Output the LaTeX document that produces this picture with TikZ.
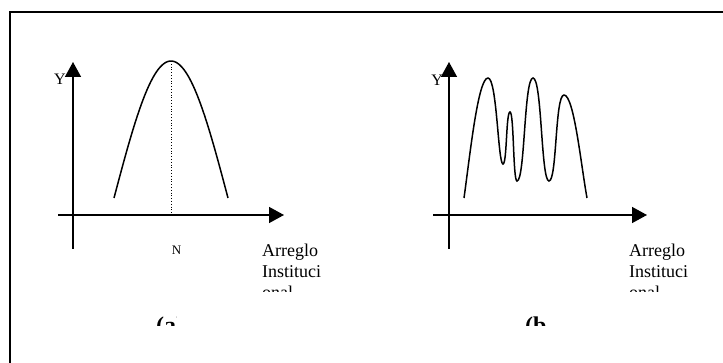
\documentclass[tikz,border=0pt]{standalone}
\usepackage{fontspec}
\setmainfont{Liberation Serif}
\usetikzlibrary{arrows.meta}
\newcommand{\szA}{\fontsize{18pt}{21pt}\selectfont}
\newcommand{\szY}{\fontsize{16pt}{19pt}\selectfont}
\newcommand{\szN}{\fontsize{13pt}{15pt}\selectfont}
\newcommand{\szC}{\fontsize{24pt}{28pt}\selectfont\bfseries}
\begin{document}
\begin{tikzpicture}[x=1pt,y=-1pt,
  axis/.style={line width=1.5pt,-{Triangle[length=15pt,width=16pt]}},
  curve/.style={line width=1.5pt},
  lbl/.style={inner sep=0pt,font=\szA,anchor=base west},
  ylbl/.style={inner sep=0pt,font=\szY},
  nlbl/.style={inner sep=0pt,font=\szN},
  captxt/.style={inner sep=0pt,font=\szC}]
\useasboundingbox (0,0) rectangle (723,363);
% frame
\coordinate (fbl) at (10,363);
\coordinate (ftl) at (10,12);
\coordinate (ftr) at (723,12);
\draw[line width=1.2pt] (fbl) -- (ftl) -- (ftr);
% ---- panel (a)
\coordinate (ya0) at (73,249);
\coordinate (ya1) at (73,62);
\coordinate (xa0) at (58,215);
\coordinate (xa1) at (284,215);
\draw[axis] (ya0) -- (ya1);
\draw[axis] (xa0) -- (xa1);
\node[ylbl,anchor=base east] (Ya) at (66,85) {Y};
\coordinate (peak) at (171,61);
\coordinate (peakfoot) at (171,215);
\draw[curve] plot[domain=-90:90,samples=60] ({171+57*\x/90},{198-137*cos(\x)});
\draw[line width=0.8pt,dotted] (peak) -- (peakfoot);
\node[nlbl,anchor=base] (N) at (176.5,255) {N};
\begin{scope}
\clip (0,0) rectangle (723,292);
\node[lbl] (arra1) at (262,257) {Arreglo};
\node[lbl] (arra2) at (262,278) {Instituci};
\node[lbl] (arra3) at (262,299) {onal};
\end{scope}
\begin{scope}
\clip (0,0) rectangle (176,326);
\node[captxt,anchor=base west] (capa) at (156,334) {(a)};
\end{scope}
% ---- panel (b)
\coordinate (yb0) at (449,249);
\coordinate (yb1) at (449,62);
\coordinate (xb0) at (433,215);
\coordinate (xb1) at (647,215);
\draw[axis] (yb0) -- (yb1);
\draw[axis] (xb0) -- (xb1);
\node[ylbl,anchor=base east] (Yb) at (443,86) {Y};
\coordinate (s0) at (464,198);
\coordinate (p1) at (488,78);
\coordinate (t1) at (503,164);
\coordinate (p2) at (510,112);
\coordinate (t2) at (517,181);
\coordinate (p3) at (533,78);
\coordinate (t3) at (549,181);
\coordinate (p4) at (564,95);
\coordinate (e0) at (587,198);
\draw[curve] (s0) .. controls (470,155) and (478,78) .. (p1)
  .. controls (497,78) and (498,164) .. (t1)
  .. controls (507,164) and (506,112) .. (p2)
  .. controls (514,112) and (513,181) .. (t2)
  .. controls (525,181) and (524,78) .. (p3)
  .. controls (542,78) and (541,181) .. (t3)
  .. controls (557,181) and (555,95) .. (p4)
  .. controls (574,95) and (581,165) .. (e0);
\begin{scope}
\clip (0,0) rectangle (723,292);
\node[lbl] (arrb1) at (629,257) {Arreglo};
\node[lbl] (arrb2) at (629,278) {Instituci};
\node[lbl] (arrb3) at (629,299) {onal};
\end{scope}
\begin{scope}
\clip (0,0) rectangle (546,326);
\node[captxt,anchor=base west] (capb) at (525,334) {(b)};
\end{scope}
\end{tikzpicture}
\end{document}
